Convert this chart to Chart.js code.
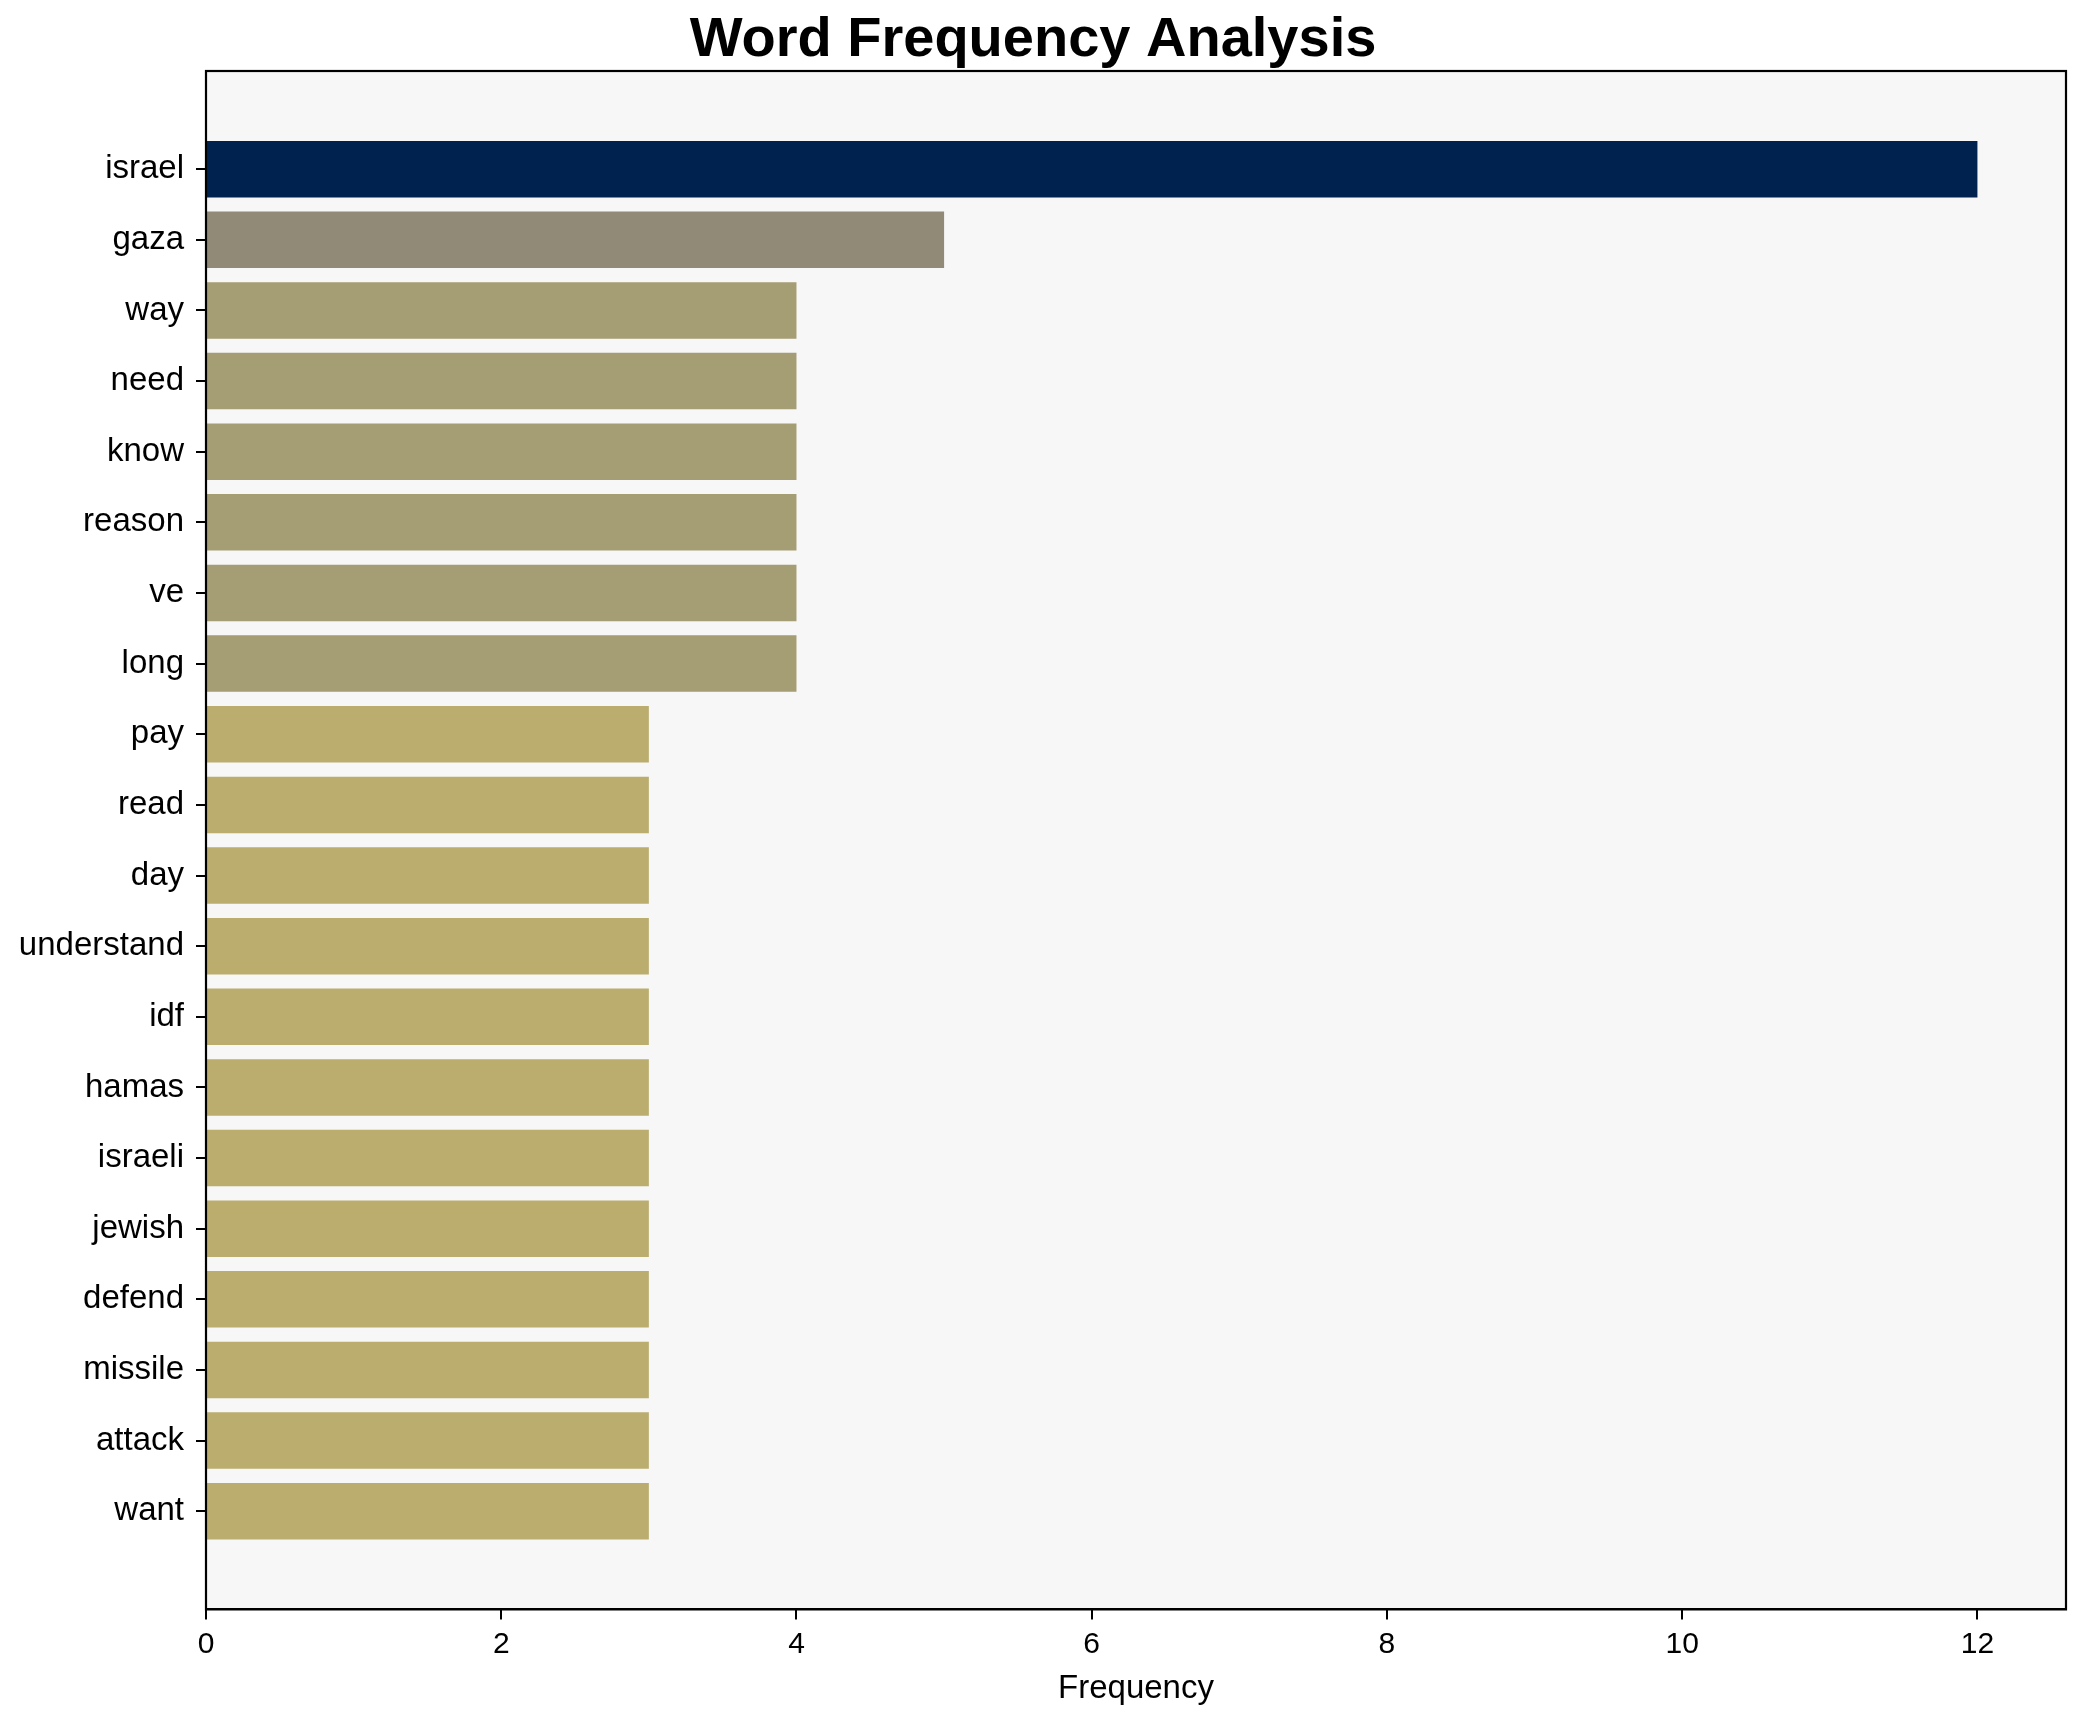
<!DOCTYPE html>
<html>
<head>
<meta charset="utf-8">
<script src="https://cdn.jsdelivr.net/npm/chart.js@4.4.0/dist/chart.umd.min.js"></script>
<style>
  html, body { margin: 0; padding: 0; background: #ffffff; }
  #wrap { width: 2086px; height: 1722px; }
</style>
</head>
<body>
<div id="wrap"><canvas id="bar-chart"></canvas></div>
<script>
// word frequency data
var words = ["israel", "gaza", "way", "need", "know", "reason", "ve", "long", "pay", "read",
             "day", "understand", "idf", "hamas", "israeli", "jewish", "defend", "missile", "attack", "want"];
var counts = [12, 5, 4, 4, 4, 4, 4, 4, 3, 3, 3, 3, 3, 3, 3, 3, 3, 3, 3, 3];
var xTicks = [0, 2, 4, 6, 8, 10, 12];

// colour by value (cividis-like)
var colorFor = { 12: "#00224e", 5: "#918a76", 4: "#a59d73", 3: "#bbad6e" };

var font = "'Liberation Sans', Arial, sans-serif";
Chart.defaults.font.family = font;
Chart.defaults.color = "#000";

// plot background + frame like matplotlib
var framePlugin = {
  id: "frame",
  beforeDraw: function (chart) {
    var a = chart.chartArea, ctx = chart.ctx;
    ctx.save();
    ctx.fillStyle = "#f7f7f7";
    ctx.fillRect(a.left, a.top, a.right - a.left, a.bottom - a.top);
    ctx.restore();
  },
  afterDraw: function (chart) {
    var a = chart.chartArea, ctx = chart.ctx;
    ctx.save();
    ctx.strokeStyle = "#000";
    ctx.lineWidth = 2.2;
    ctx.strokeRect(a.left, a.top, a.right - a.left, a.bottom - a.top);
    ctx.restore();
  }
};

var points = words.map(function (w, i) { return { x: counts[i], y: i }; });

new Chart(document.getElementById("bar-chart"), {
  type: "bar",
  data: {
    datasets: [{
      label: "Frequency",
      data: points,
      backgroundColor: counts.map(function (c) { return colorFor[c]; }),
      borderWidth: 0,
      barPercentage: 0.8,
      categoryPercentage: 1
    }]
  },
  options: {
    indexAxis: "y",
    responsive: true,
    maintainAspectRatio: false,
    animation: false,
    layout: { padding: { left: 0, right: 20, top: 0, bottom: 0 } },
    plugins: {
      legend: { display: false },
      tooltip: { enabled: false },
      title: {
        display: true,
        text: "Word Frequency Analysis",
        font: { size: 56, weight: "bold", family: font, lineHeight: 1.0 },
        color: "#000",
        padding: { top: 13, bottom: 2 }
      }
    },
    scales: {
      x: {
        type: "linear",
        min: 0,
        max: 12.6,
        afterBuildTicks: function (scale) {
          scale.ticks = xTicks.map(function (v) { return { value: v }; });
        },
        ticks: { font: { size: 30 }, color: "#000", padding: 7, maxRotation: 0 },
        grid: { display: true, drawOnChartArea: false, drawTicks: true, tickLength: 10, tickColor: "#000", lineWidth: 2 },
        border: { display: true, color: "#000", width: 2 },
        title: {
          display: true,
          text: "Frequency",
          font: { size: 33, lineHeight: 1.2 },
          color: "#000",
          padding: { top: 0, bottom: 13 }
        }
      },
      y: {
        type: "linear",
        min: -1.39,
        max: 20.39,
        reverse: true,
        offset: false,
        afterBuildTicks: function (scale) {
          scale.ticks = words.map(function (w, i) { return { value: i }; });
        },
        afterFit: function (scale) { scale.width = 206; },
        ticks: {
          autoSkip: false,
          font: { size: 33 },
          color: "#000",
          padding: 12,
          callback: function (v) { return words[v]; }
        },
        grid: { display: true, offset: false, drawOnChartArea: false, drawTicks: true, tickLength: 10, tickColor: "#000", lineWidth: 2 },
        border: { display: true, color: "#000", width: 2 }
      }
    }
  },
  plugins: [framePlugin]
});
</script>
</body>
</html>
